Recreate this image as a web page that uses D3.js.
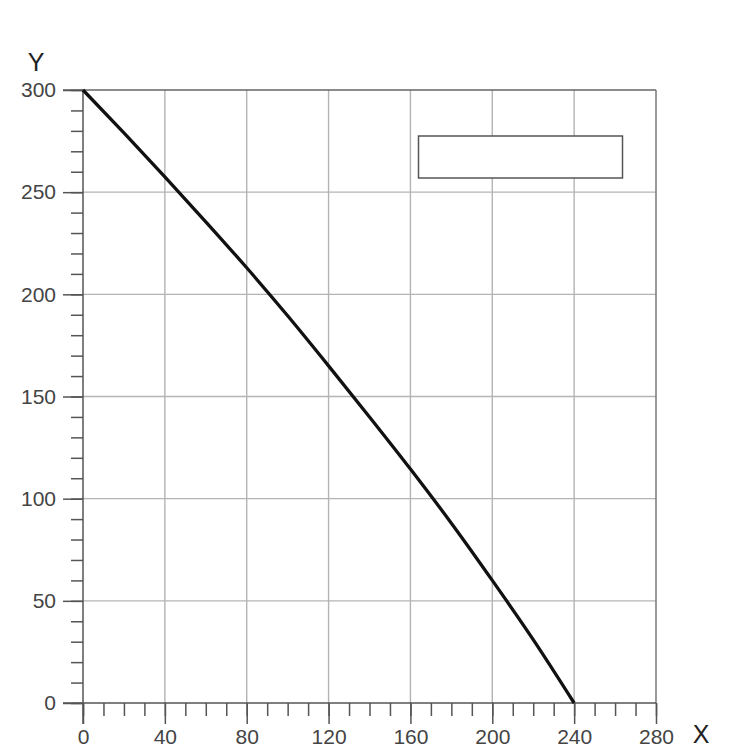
<!DOCTYPE html>
<html>
<head>
<meta charset="utf-8">
<script src="https://cdn.jsdelivr.net/npm/d3@7"></script>
<style>
  body { margin: 0; background: #fff; }
  svg text { font-family: "Liberation Sans", Arial, sans-serif; }
</style>
</head>
<body>
<div id="chart"></div>
<script>
// curve values
var xValues = [0, 20, 40, 60, 80, 100, 120, 140, 160, 180, 200, 220, 240];
var yValues = [300, 279, 257.5, 235.5, 213, 189.5, 165, 140, 114.5, 88, 60, 31, 0];
var xTicks = [0, 40, 80, 120, 160, 200, 240, 280];
var yTicks = [0, 50, 100, 150, 200, 250, 300];

var w = 729, h = 750;

var svg = d3.select("#chart").append("svg")
  .attr("width", w)
  .attr("height", h);

var x = d3.scaleLinear().domain([0, 280]).range([83, 656]);
var y = d3.scaleLinear().domain([0, 300]).range([703, 90]);

// grid
var grid = svg.append("g").attr("class", "grid");
grid.selectAll("line.v")
  .data(xTicks.slice(1, -1))
  .enter().append("line")
  .attr("x1", function(d) { return x(d); })
  .attr("x2", function(d) { return x(d); })
  .attr("y1", y(300))
  .attr("y2", y(0))
  .attr("stroke", "#b4b4b4")
  .attr("stroke-width", 1.4);

grid.selectAll("line.h")
  .data(yTicks.slice(1, -1))
  .enter().append("line")
  .attr("x1", x(0))
  .attr("x2", x(280))
  .attr("y1", function(d) { return y(d); })
  .attr("y2", function(d) { return y(d); })
  .attr("stroke", "#b4b4b4")
  .attr("stroke-width", 1.4);

// top and right border
svg.append("line")
  .attr("x1", x(0) - 20).attr("x2", x(280))
  .attr("y1", y(300)).attr("y2", y(300))
  .attr("stroke", "#666").attr("stroke-width", 1.5);
svg.append("line")
  .attr("x1", x(280)).attr("x2", x(280))
  .attr("y1", y(300)).attr("y2", y(0))
  .attr("stroke", "#777").attr("stroke-width", 1.5);

// y axis: minor ticks then major ticks
var yMinor = svg.append("g")
  .attr("transform", "translate(" + x(0) + ",0)")
  .call(d3.axisLeft(y).tickValues(d3.range(0, 301, 10)).tickSize(12).tickFormat(""));
var yMajor = svg.append("g")
  .attr("transform", "translate(" + x(0) + ",0)")
  .call(d3.axisLeft(y).tickValues(yTicks).tickSize(20).tickPadding(7));

// x axis
var xMinor = svg.append("g")
  .attr("transform", "translate(0," + y(0) + ")")
  .call(d3.axisBottom(x).tickValues(d3.range(0, 281, 10)).tickSize(13).tickFormat(""));
var xMajor = svg.append("g")
  .attr("transform", "translate(0," + y(0) + ")")
  .call(d3.axisBottom(x).tickValues(xTicks).tickSize(21).tickPadding(5));

[yMinor, yMajor, xMinor, xMajor].forEach(function(g) {
  g.select(".domain").remove();
  g.selectAll("line").attr("stroke", "#555").attr("stroke-width", 1.5);
  g.selectAll("text").attr("fill", "#444").style("font-size", "21px");
});

// axis lines
svg.append("line")
  .attr("x1", x(0)).attr("x2", x(0))
  .attr("y1", y(300)).attr("y2", y(0) + 21)
  .attr("stroke", "#555").attr("stroke-width", 1.5);
svg.append("line")
  .attr("x1", x(0) - 20).attr("x2", x(280))
  .attr("y1", y(0)).attr("y2", y(0))
  .attr("stroke", "#555").attr("stroke-width", 1.5);

// axis names
svg.append("text")
  .attr("x", 36).attr("y", 71)
  .attr("text-anchor", "middle")
  .attr("fill", "#222")
  .style("font-size", "25px")
  .text("Y");
svg.append("text")
  .attr("x", 701).attr("y", 743)
  .attr("text-anchor", "middle")
  .attr("fill", "#222")
  .style("font-size", "25px")
  .text("X");

// empty legend box
svg.append("rect")
  .attr("x", 418.5).attr("y", 136)
  .attr("width", 204).attr("height", 42)
  .attr("fill", "#fff")
  .attr("stroke", "#555")
  .attr("stroke-width", 1.5);

// curve
var data = xValues.map(function(d, i) { return {x: d, y: yValues[i]}; });
var line = d3.line()
  .x(function(d) { return x(d.x); })
  .y(function(d) { return y(d.y); })
  .curve(d3.curveMonotoneX);

svg.append("path")
  .datum(data)
  .attr("d", line)
  .attr("fill", "none")
  .attr("stroke", "#111")
  .attr("stroke-width", 3.3);
</script>
</body>
</html>
